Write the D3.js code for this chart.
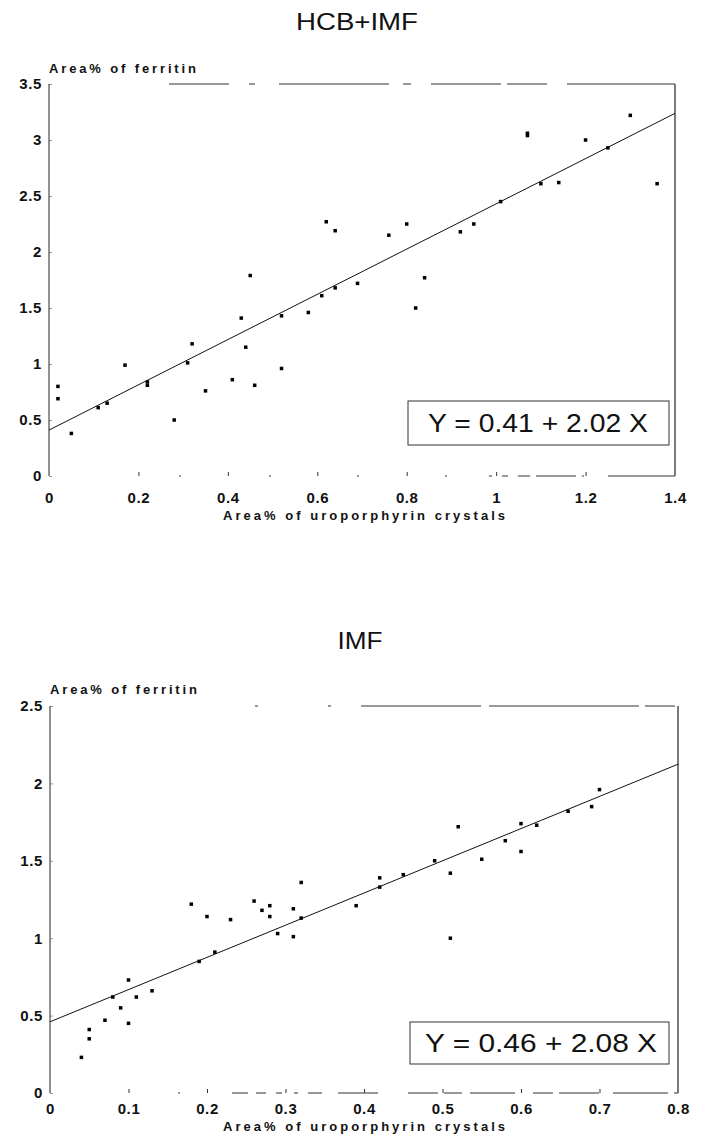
<!DOCTYPE html>
<html>
<head>
<meta charset="utf-8">
<script src="https://cdn.jsdelivr.net/npm/d3@7"></script>
<style>
  body { margin: 0; background: #fff; }
  text { font-family: "Liberation Sans", Arial, sans-serif; fill: #111; }
</style>
</head>
<body>
<div id="chart"></div>
<script>
// HCB+IMF panel
const hcbX = [0.02, 0.02, 0.05, 0.11, 0.13, 0.17, 0.22, 0.22, 0.28, 0.31, 0.32, 0.35, 0.41, 0.43, 0.44, 0.45, 0.46, 0.52, 0.52, 0.58,
              0.61, 0.62, 0.64, 0.64, 0.69, 0.76, 0.80, 0.82, 0.84, 0.92, 0.95, 1.01, 1.07, 1.07, 1.10, 1.14, 1.20, 1.25, 1.30, 1.36];
const hcbY = [0.80, 0.69, 0.38, 0.61, 0.65, 0.99, 0.84, 0.81, 0.50, 1.01, 1.18, 0.76, 0.86, 1.41, 1.15, 1.79, 0.81, 1.43, 0.96, 1.46,
              1.61, 2.27, 2.19, 1.68, 1.72, 2.15, 2.25, 1.50, 1.77, 2.18, 2.25, 2.45, 3.06, 3.04, 2.61, 2.62, 3.00, 2.93, 3.22, 2.61];
const hcbFit = [0.41, 2.02];
const hcbXTicks = [0, 0.2, 0.4, 0.6, 0.8, 1, 1.2, 1.4];
const hcbYTicks = [0, 0.5, 1, 1.5, 2, 2.5, 3, 3.5];

// IMF panel
const imfX = [0.04, 0.05, 0.05, 0.07, 0.08, 0.09, 0.10, 0.10, 0.11, 0.13, 0.18, 0.19, 0.20, 0.21, 0.23, 0.26, 0.27, 0.28, 0.28, 0.29,
              0.31, 0.31, 0.32, 0.32, 0.39, 0.42, 0.42, 0.45, 0.49, 0.51, 0.51, 0.52, 0.55, 0.58, 0.60, 0.60, 0.62, 0.66, 0.69, 0.70];
const imfY = [0.23, 0.35, 0.41, 0.47, 0.62, 0.55, 0.73, 0.45, 0.62, 0.66, 1.22, 0.85, 1.14, 0.91, 1.12, 1.24, 1.18, 1.21, 1.14, 1.03,
              1.19, 1.01, 1.36, 1.13, 1.21, 1.39, 1.33, 1.41, 1.50, 1.42, 1.00, 1.72, 1.51, 1.63, 1.74, 1.56, 1.73, 1.82, 1.85, 1.96];
const imfFit = [0.46, 2.08];
const imfXTicks = [0, 0.1, 0.2, 0.3, 0.4, 0.5, 0.6, 0.7, 0.8];
const imfYTicks = [0, 0.5, 1, 1.5, 2, 2.5];

const svg = d3.select("#chart").append("svg")
    .attr("width", 702)
    .attr("height", 1146);

function styleTicks(a)
{
    a.selectAll("text")
        .style("font-family", "Liberation Sans, Arial, sans-serif")
        .style("font-size", "15px")
        .style("font-weight", "bold")
        .style("letter-spacing", "0.6px")
        .attr("fill", "#111");
}

function drawPanel(p)
{
    const x = d3.scaleLinear()
        .domain([0, p.xTicks[p.xTicks.length - 1]])
        .range([p.left, p.right]);
    const y = d3.scaleLinear()
        .domain([0, p.yTicks[p.yTicks.length - 1]])
        .range([p.bottom, p.top]);

    const g = svg.append("g");

    // title
    g.append("text")
        .attr("x", p.titleX)
        .attr("y", p.titleY)
        .attr("text-anchor", "middle")
        .attr("textLength", p.titleW)
        .attr("lengthAdjust", "spacingAndGlyphs")
        .style("font-size", "24px")
        .text(p.title);

    // x axis, ticks point up into the plot
    g.append("g")
        .attr("transform", `translate(0, ${p.bottom})`)
        .call(d3.axisBottom(x).tickValues(p.xTicks).tickFormat(String)
            .tickSizeInner(-4).tickSizeOuter(0).tickPadding(p.xPad))
        .call((a) => a.select(".domain").remove())
        .call((a) => a.selectAll("line").attr("stroke", "#333"))
        .call((a) => a.selectAll(".tick").filter((d) => d === 0 || d === x.domain()[1]).select("line").remove())
        .call(styleTicks);

    // y axis
    g.append("g")
        .attr("transform", `translate(${p.left}, 0)`)
        .call(d3.axisLeft(y).tickValues(p.yTicks).tickFormat(String)
            .tickSizeInner(-3).tickSizeOuter(0).tickPadding(7))
        .call((a) => a.select(".domain").remove())
        .call((a) => a.selectAll("line").attr("stroke", "#999"))
        .call(styleTicks);

    // frame: solid sides, broken top and bottom like the printed original
    g.append("line").attr("x1", p.left).attr("x2", p.left).attr("y1", p.top).attr("y2", p.bottom)
        .attr("stroke", "#222").attr("stroke-width", 1);
    g.append("line").attr("x1", p.right).attr("x2", p.right).attr("y1", p.top).attr("y2", p.bottom)
        .attr("stroke", "#222").attr("stroke-width", 1.2);
    g.append("line").attr("x1", p.left).attr("x2", p.right).attr("y1", p.top).attr("y2", p.top)
        .attr("stroke", "#333").attr("stroke-width", 1)
        .attr("stroke-dasharray", p.topDash);
    g.append("line").attr("x1", p.left).attr("x2", p.right).attr("y1", p.bottom).attr("y2", p.bottom)
        .attr("stroke", "#333").attr("stroke-width", 1)
        .attr("stroke-dasharray", p.bottomDash);

    // axis titles
    g.append("text")
        .attr("x", p.left)
        .attr("y", p.yLabelY)
        .attr("textLength", 147)
        .attr("lengthAdjust", "spacing")
        .style("font-size", "13px")
        .style("font-weight", "bold")
        .text("Area% of ferritin");

    g.append("text")
        .attr("x", 223)
        .attr("y", p.xLabelY)
        .attr("textLength", 282)
        .attr("lengthAdjust", "spacing")
        .style("font-size", "13px")
        .style("font-weight", "bold")
        .text("Area% of uroporphyrin crystals");

    // regression line
    const xMax = x.domain()[1];
    g.append("line")
        .attr("x1", x(0)).attr("y1", y(p.fit[0]))
        .attr("x2", x(xMax)).attr("y2", y(p.fit[0] + p.fit[1] * xMax))
        .attr("stroke", "#111")
        .attr("stroke-width", 1);

    // points
    g.append("g")
        .selectAll("rect")
        .data(p.xs.map((d, i) => [d, p.ys[i]]))
        .enter().append("rect")
            .attr("x", (d) => x(d[0]) - 1.75)
            .attr("y", (d) => y(d[1]) - 1.75)
            .attr("width", 3.5)
            .attr("height", 3.5)
            .attr("fill", "#000");

    // equation box
    g.append("rect")
        .attr("x", p.box[0])
        .attr("y", p.box[1])
        .attr("width", p.box[2] - p.box[0])
        .attr("height", p.box[3] - p.box[1])
        .attr("fill", "#fff")
        .attr("stroke", "#333")
        .attr("stroke-width", 1);
    g.append("text")
        .attr("x", p.eqX)
        .attr("y", (p.box[1] + p.box[3]) / 2)
        .attr("dy", "0.36em")
        .attr("textLength", p.eqW)
        .attr("lengthAdjust", "spacingAndGlyphs")
        .style("font-size", "25px")
        .text(`Y = ${p.fit[0]} + ${p.fit[1]} X`);
}

drawPanel({
    title: "HCB+IMF", titleX: 357, titleY: 30, titleW: 122,
    xs: hcbX, ys: hcbY, fit: hcbFit, xTicks: hcbXTicks, yTicks: hcbYTicks,
    left: 49, right: 675, top: 84, bottom: 476,
    xPad: 16, yLabelY: 73, xLabelY: 520,
    box: [408, 401, 669, 445], eqX: 428, eqW: 220,
    topDash: "0,120,60,20,6,24,110,14,8,20,70,6,40,20,200",
    bottomDash: "0,130,2,88,2,86,2,86,2,42,3,10,6,10,12,6,40,6,2,24,80"
});

drawPanel({
    title: "IMF", titleX: 360, titleY: 649, titleW: 45,
    xs: imfX, ys: imfY, fit: imfFit, xTicks: imfXTicks, yTicks: imfYTicks,
    left: 50, right: 678, top: 706, bottom: 1093,
    xPad: 10, yLabelY: 694, xLabelY: 1131,
    box: [410, 1022, 669, 1064], eqX: 425, eqW: 232,
    topDash: "0,205,3,70,3,30,120,8,150,6,30,10,200",
    bottomDash: "0,128,2,52,16,8,10,10,6,12,4,10,14,16,40,30,30,6,18,8,45,18,20,6,40,14,55,6,30,8,60"
});
</script>
</body>
</html>
